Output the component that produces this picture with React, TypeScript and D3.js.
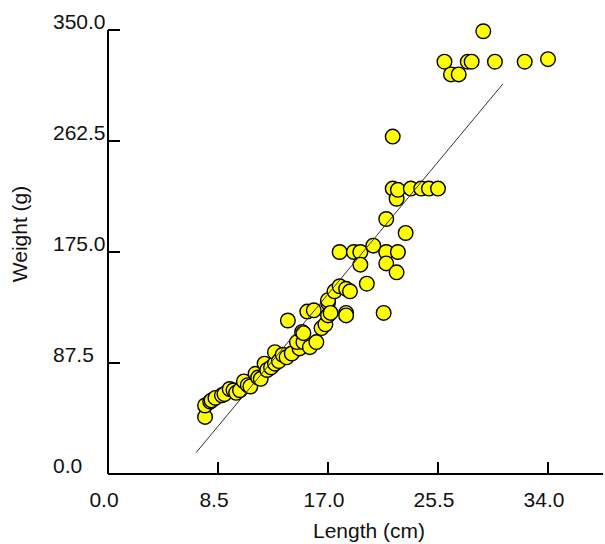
import React from 'react';
import * as d3 from 'd3';

// length (cm) / weight (g) readings
const lengths = [
  7.5, 7.5, 7.9, 8.0, 8.3, 8.8, 9.0, 9.4, 9.7, 9.9, 10.2, 10.5, 10.8, 11.0, 11.4, 11.6, 11.8, 12.1, 12.3,
  12.6, 12.9, 12.9, 13.2, 13.5, 13.8, 14.2, 14.8,
  13.9, 14.6, 15.0, 15.1, 15.1, 15.4, 15.6, 15.9, 16.1, 16.5, 16.8, 17.0, 17.0, 17.0, 17.2, 17.5, 17.9,
  18.4, 18.7, 18.4, 18.4, 20.0, 21.3,
  17.9, 19.0, 19.5, 20.5, 21.5, 22.4, 19.5, 21.5, 22.3, 23.0, 21.5, 22.0, 22.3, 22.4, 23.4, 24.2, 24.8,
  25.5, 22.0,
  26.0, 26.5, 27.1, 27.8, 28.1, 29.0, 29.9, 32.2, 34.0
];
const weights = [
  45, 54, 57, 58, 60, 62, 63, 67, 66, 64, 66, 73, 70, 69, 79, 76, 75, 87, 82,
  84, 87, 96, 89, 94, 92, 95, 99,
  121, 104, 112, 104, 111, 128, 100, 129, 104, 115, 118, 125, 135, 137, 127, 144, 148,
  146, 144, 127, 125, 150, 127,
  175, 175, 175, 180, 175, 175, 165, 166, 159, 190, 201, 225, 217, 224, 225, 225, 225,
  225, 266,
  325, 315, 315, 325, 325, 349, 325, 325, 327
];

// fitted line: weight = slope * length + intercept
const fitSlope = 12.26;
const fitIntercept = -66.6;
const fitRange = [6.8, 30.5];

const xTicks = [0, 8.5, 17, 25.5, 34];
const yTicks = [0, 87.5, 175, 262.5, 350];

const W = 605;
const H = 544;
const font = 'Liberation Sans, Arial, sans-serif';
const ink = '#111';

export default function App() {
  const x = d3.scaleLinear().domain([0, 38.25]).range([108, 603]);
  const y = d3.scaleLinear().domain([0, 350]).range([474, 30]);
  const fmt = d3.format('.1f');

  const points = lengths.map((l, i) => ({ l, w: weights[i] }));
  const fitLine = d3
    .line<number>()
    .x((d) => x(d))
    .y((d) => y(fitSlope * d + fitIntercept));

  return (
    <svg width={W} height={H} style={{ position: 'absolute', left: 0, top: 0, background: '#fff' }}>
      {/* axes */}
      <line x1={x(0)} x2={x(0)} y1={y(350)} y2={y(0)} stroke="#000" strokeWidth={2} />
      <line x1={x(0)} x2={x(38.25)} y1={y(0)} y2={y(0)} stroke="#000" strokeWidth={2} />
      {yTicks.map((t) => (
        <g key={'y' + t}>
          <line x1={x(0)} x2={x(0) + 12} y1={y(t)} y2={y(t)} stroke="#000" strokeWidth={2} />
          <text x={53} y={y(t) - 1} fontFamily={font} fontSize={21} fill={ink}>
            {fmt(t)}
          </text>
        </g>
      ))}
      {xTicks.map((t) => (
        <g key={'x' + t}>
          {t > 0 && (
            <line x1={x(t)} x2={x(t)} y1={y(0)} y2={y(0) - 12} stroke="#000" strokeWidth={2} />
          )}
          <text x={x(t) - 4} y={507} textAnchor="middle" fontFamily={font} fontSize={21} fill={ink}>
            {fmt(t)}
          </text>
        </g>
      ))}
      <text x={369} y={538} textAnchor="middle" fontFamily={font} fontSize={21} fill={ink}>
        Length (cm)
      </text>
      <text
        transform="translate(27,234) rotate(-90)"
        textAnchor="middle"
        fontFamily={font}
        fontSize={21}
        fill={ink}
      >
        Weight (g)
      </text>

      {/* points */}
      {points.map((p, i) => (
        <circle key={i} cx={x(p.l)} cy={y(p.w)} r={7.3} fill="#ffff00" stroke="#000" strokeWidth={1.4} />
      ))}

      {/* regression line */}
      <path d={fitLine(fitRange) || ''} fill="none" stroke="#333" strokeWidth={1} />
    </svg>
  );
}
